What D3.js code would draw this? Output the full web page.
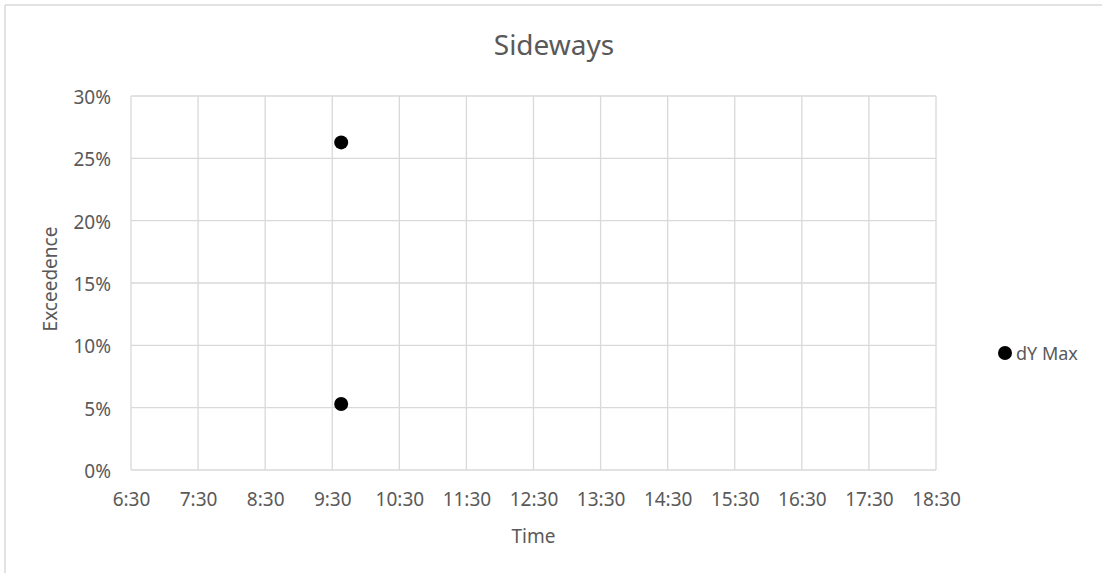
<!DOCTYPE html>
<html>
<head>
<meta charset="utf-8">
<script src="https://cdn.jsdelivr.net/npm/d3@7"></script>
<style>
  body { margin: 0; background: #fff; }
  svg { display: block; }
  svg text { font-family: "Noto Sans", "Open Sans", sans-serif; fill: #595959; }
</style>
</head>
<body>
<div id="chart"></div>
<script>
// data
const seriesName = "dY Max";
const times = ["9:38", "9:38"];
const exceedence = [0.2628, 0.0529];
const xTickLabels = ["6:30", "7:30", "8:30", "9:30", "10:30", "11:30", "12:30", "13:30", "14:30", "15:30", "16:30", "17:30", "18:30"];
const yTicks = [0, 0.05, 0.10, 0.15, 0.20, 0.25, 0.30];

const width = 1102, height = 573;
const margin = { top: 96, right: 166, bottom: 103, left: 131 };
const innerWidth = width - margin.left - margin.right;
const innerHeight = height - margin.top - margin.bottom;

const parse = s => { const [h, m] = s.split(":").map(Number); return new Date(2000, 0, 1, h, m); };

const svg = d3.select("#chart").append("svg").attr("width", width).attr("height", height);

// bordo del grafico (solo lati visibili)
svg.append("line").attr("x1", 5).attr("x2", width).attr("y1", 5).attr("y2", 5)
    .attr("stroke", "#d9d9d9").attr("stroke-width", 1.5);
svg.append("line").attr("x1", 5).attr("x2", 5).attr("y1", 5).attr("y2", height)
    .attr("stroke", "#d9d9d9").attr("stroke-width", 1.5);

const g = svg.append("g").attr("transform", `translate(${margin.left},${margin.top})`);

const x = d3.scaleTime().domain([parse(xTickLabels[0]), parse(xTickLabels[xTickLabels.length - 1])]).range([0, innerWidth]);
const y = d3.scaleLinear().domain([0, 0.30]).range([innerHeight, 0]);

// griglia
g.selectAll(".vgrid").data(xTickLabels).enter().append("line")
    .attr("x1", d => x(parse(d))).attr("x2", d => x(parse(d)))
    .attr("y1", 0).attr("y2", innerHeight)
    .attr("stroke", "#d9d9d9").attr("stroke-width", 1.3);
g.selectAll(".hgrid").data(yTicks).enter().append("line")
    .attr("x1", 0).attr("x2", innerWidth)
    .attr("y1", d => y(d)).attr("y2", d => y(d))
    .attr("stroke", "#d9d9d9").attr("stroke-width", 1.3);

// Assi
const xAxis = g.append("g").attr("transform", `translate(0,${innerHeight})`)
    .call(d3.axisBottom(x).tickValues(xTickLabels.map(parse)).tickFormat((d, i) => xTickLabels[i]).tickSize(0).tickPadding(23));
const yAxis = g.append("g")
    .call(d3.axisLeft(y).tickValues(yTicks).tickFormat(d3.format(".0%")).tickSize(0).tickPadding(20));
[xAxis, yAxis].forEach(a => {
    a.select(".domain").remove();
    a.selectAll("text").style("font-size", "19px");
});
yAxis.selectAll("text").attr("dy", "0.4em");

// punti
g.selectAll("circle").data(times).enter().append("circle")
    .attr("cx", d => x(parse(d)))
    .attr("cy", (d, i) => y(exceedence[i]))
    .attr("r", 7)
    .attr("fill", "#000");

// titoli
svg.append("text").attr("x", 554).attr("y", 55)
    .attr("text-anchor", "middle").style("font-size", "28px").text("Sideways");
svg.append("text").attr("x", margin.left + innerWidth / 2).attr("y", 543)
    .attr("text-anchor", "middle").style("font-size", "19px").text("Time");
svg.append("text").attr("transform", `translate(57,${margin.top + innerHeight / 2 - 4}) rotate(-90)`)
    .attr("text-anchor", "middle").style("font-size", "19px").text("Exceedence");

// legenda
const legend = svg.append("g").attr("transform", "translate(1005,353)");
legend.append("circle").attr("r", 7).attr("fill", "#000");
legend.append("text").attr("x", 11).attr("dy", "0.37em").style("font-size", "18px").text(seriesName);
</script>
</body>
</html>
